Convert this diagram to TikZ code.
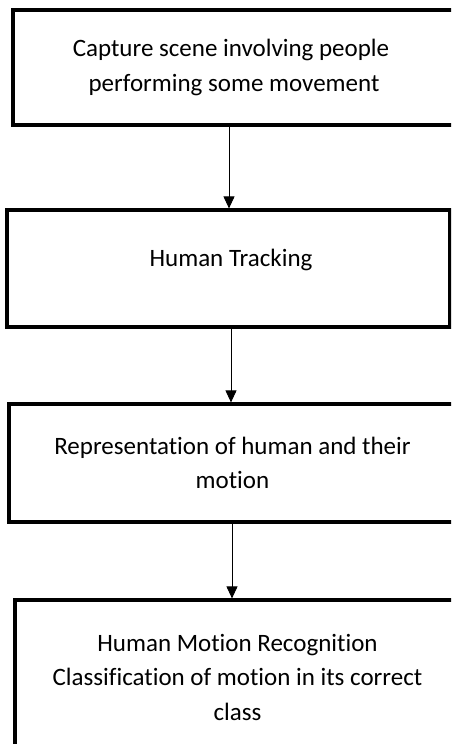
\documentclass[tikz,border=0pt]{standalone}
\usepackage{fontspec}
\setmainfont[Ligatures=NoCommon]{Carlito}
\usetikzlibrary{arrows.meta}

\begin{document}
\begin{tikzpicture}[x=1pt, y=-1pt,
		stepbox/.style={draw, line width=3.2pt, rectangle, align=center, inner sep=0pt,
			font=\fontsize{25}{34.5}\selectfont},
		flow/.style={line width=0.9pt, -{Triangle[width=11pt, length=12pt]}}]
		\useasboundingbox (0, 0) rectangle (451, 744);
		\clip (0, 0) rectangle (451, 744);
		%\draw[gray, dotted] (0, 0) grid[step=50] (451, 744);
		\node[stepbox, minimum width=442, minimum height=115] (capture) at (234, 67.5)
			{\hspace*{-6pt}Capture scene involving people\\performing some movement};
		\node[stepbox, minimum width=443, minimum height=117, text depth=21pt] (tracking) at (228.5, 268.5)
			{\hspace*{5pt}Human Tracking};
		\node[stepbox, minimum width=447, minimum height=118] (represent) at (232.5, 463)
			{Representation of human and their\\motion};
		\node[stepbox, minimum width=445, minimum height=154] (recog) at (237.5, 677)
			{Human Motion Recognition\\Classification of motion in its correct\\class};
		\draw[flow] ([xshift=-5pt]capture.south) -- ([xshift=0.5pt]tracking.north);
		\draw[flow] ([xshift=2.5pt]tracking.south) -- ([xshift=-1.5pt]represent.north);
		\draw[flow] ([xshift=-0.5pt]represent.south) -- ([xshift=-5.5pt]recog.north);
	\end{tikzpicture}
\end{document}
